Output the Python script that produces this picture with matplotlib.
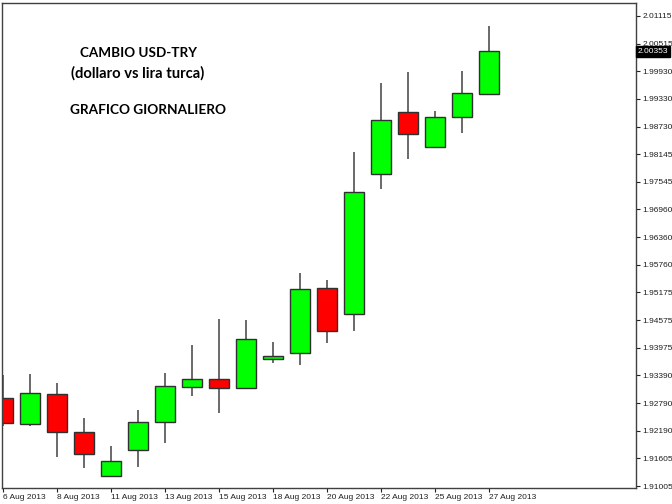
import numpy as np
import matplotlib
matplotlib.use("Agg")
import matplotlib.pyplot as plt

# daily USD-TRY candles
days = ["6 Aug 2013", "7 Aug 2013", "8 Aug 2013", "9 Aug 2013", "11 Aug 2013",
        "12 Aug 2013", "13 Aug 2013", "14 Aug 2013", "15 Aug 2013", "16 Aug 2013",
        "18 Aug 2013", "19 Aug 2013", "20 Aug 2013", "21 Aug 2013", "22 Aug 2013",
        "23 Aug 2013", "25 Aug 2013", "26 Aug 2013", "27 Aug 2013"]
opens = [1.92904, 1.92332, 1.92977, 1.92167, 1.91227, 1.91773, 1.92382, 1.93141,
         1.93307, 1.93119, 1.93730, 1.93859, 1.95258, 1.94711, 1.97716, 1.99050,
         1.98290, 1.98942, 1.99430]
highs = [1.93393, 1.93414, 1.93214, 1.92461, 1.91865, 1.92640, 1.93429, 1.94031,
         1.94591, 1.94576, 1.94102, 1.95580, 1.95436, 1.98183, 1.99667, 1.99910,
         1.99078, 1.99925, 2.00900]
lows = [1.92302, 1.92302, 1.91635, 1.91386, 1.91192, 1.91420, 1.91923, 1.92947,
        1.92582, 1.93098, 1.93657, 1.93601, 1.94075, 1.94345, 1.97387, 1.98032,
        1.98275, 1.98592, 1.99430]
closes = [1.92354, 1.92999, 1.92173, 1.91700, 1.91536, 1.92382, 1.93162, 1.93307,
          1.93119, 1.94160, 1.93808, 1.95236, 1.94345, 1.97335, 1.98871, 1.98577,
          1.98942, 1.99452, 2.00353]

price_ticks = [1.91005, 1.91605, 1.92190, 1.92790, 1.93390, 1.93975, 1.94575,
               1.95175, 1.95760, 1.96360, 1.96960, 1.97545, 1.98145, 1.98730,
               1.99330, 1.99930, 2.00515, 2.01115]
last_price = 2.00353

W, H = 672, 504
fig = plt.figure(figsize=(W / 100, H / 100), dpi=100)
ax = fig.add_axes([2 / W, 16 / H, 634 / W, 485 / H])

x = np.arange(len(days))
o = np.array(opens); c = np.array(closes)
up = c >= o
colors = np.where(up, "#00ff00", "#ff0000")

ax.vlines(x, lows, highs, color="#505050", lw=1.2, zorder=1)
ax.bar(x, np.abs(c - o), bottom=np.minimum(o, c), width=0.74,
       color=colors, edgecolor="#303030", linewidth=1.0, zorder=2)

ax.set_xlim(-0.04, 23.44)
ax.set_ylim(1.90962, 2.01394)

lfont = ["Liberation Sans", "DejaVu Sans"]

ax.yaxis.tick_right()
ax.set_yticks(price_ticks)
ax.set_yticklabels([f"{v:.5f}" for v in price_ticks], family=lfont)
ax.tick_params(axis="y", direction="out", length=3, width=0.8, pad=1.5,
               labelsize=6, colors="#202020")

ax.set_xticks(x[::2])
ax.set_xticklabels(days[::2], ha="left", family=lfont)
ax.tick_params(axis="x", direction="out", length=3, width=0.8, pad=1.5,
               labelsize=6, colors="#202020")

for s in ax.spines.values():
    s.set_color("#404040")
    s.set_linewidth(1.0)

# current bid marker on the price scale
ax.text(1.003, last_price, f"{last_price:.5f}", transform=ax.get_yaxis_transform(),
        ha="left", va="center", fontsize=6, color="white", family=lfont,
        bbox=dict(boxstyle="square,pad=0.2", fc="black", ec="black"))

tfont = dict(family=["Lato", "DejaVu Sans"], weight="bold", color="black")
fig.text(138 / W, 1 - 53 / H, "CAMBIO USD-TRY", ha="center", va="center",
         fontsize=9.7, **tfont)
fig.text(138 / W, 1 - 73 / H, "(dollaro vs lira turca)", ha="center", va="center",
         fontsize=10.6, **tfont)
fig.text(148 / W, 1 - 110 / H, "GRAFICO GIORNALIERO", ha="center", va="center",
         fontsize=9.8, **tfont)

fig.savefig("out.png", dpi=100, facecolor="white")
